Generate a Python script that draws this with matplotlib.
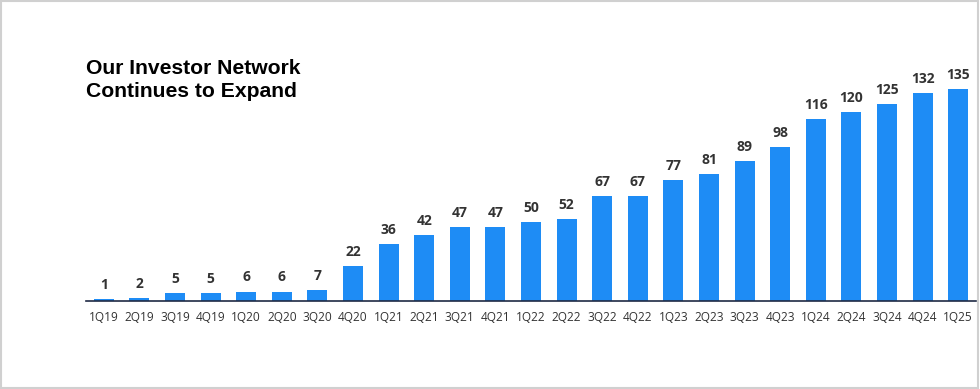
import matplotlib.pyplot as plt
from matplotlib.patches import Rectangle

QUARTERS = [
    "1Q19", "2Q19", "3Q19", "4Q19", "1Q20", "2Q20", "3Q20", "4Q20",
    "1Q21", "2Q21", "3Q21", "4Q21", "1Q22", "2Q22", "3Q22", "4Q22",
    "1Q23", "2Q23", "3Q23", "4Q23", "1Q24", "2Q24", "3Q24", "4Q24", "1Q25",
]
INVESTORS = [1, 2, 5, 5, 6, 6, 7, 22, 36, 42, 47, 47, 50, 52, 67, 67,
             77, 81, 89, 98, 116, 120, 125, 132, 135]
TITLE = "Our Investor Network\nContinues to Expand"

BAR_COLOR = "#1E8CF5"
LABEL_COLOR = "#333333"

fig = plt.figure(figsize=(9.8, 3.89), dpi=100)
fig.patches.append(Rectangle((0.001, 0.002), 0.997, 0.995, transform=fig.transFigure,
                             fill=False, edgecolor="#d0d0d0", linewidth=1.5))

ax = fig.add_axes([86 / 980, 1 - 301 / 389, (976 - 86) / 980, (301 - 40) / 389])
x = range(len(QUARTERS))
bars = ax.bar(x, INVESTORS, width=0.56, color=BAR_COLOR)
for xi, v in zip(x, INVESTORS):
    ax.text(xi, v + 4.5, str(v), ha="center", va="bottom", fontsize=10,
            fontweight="bold", color=LABEL_COLOR, family="Open Sans")

ax.set_xlim(-0.5, len(QUARTERS) - 0.5)
ax.set_ylim(0, 166)
ax.set_xticks(list(x))
ax.set_xticklabels(QUARTERS, fontsize=8.6, color="#333333", family="Open Sans")
ax.tick_params(axis="x", length=0, pad=7.5)
ax.set_yticks([])
for side in ["top", "right", "left"]:
    ax.spines[side].set_visible(False)
ax.spines["bottom"].set_color("#1f2a44")
ax.spines["bottom"].set_linewidth(1.2)

fig.text(86 / 980, 1 - 59 / 389, TITLE, ha="left", va="top", fontsize=15.2,
         fontweight="bold", color="black", family="Liberation Sans", linespacing=1.25)

fig.savefig("out.png", dpi=100)
